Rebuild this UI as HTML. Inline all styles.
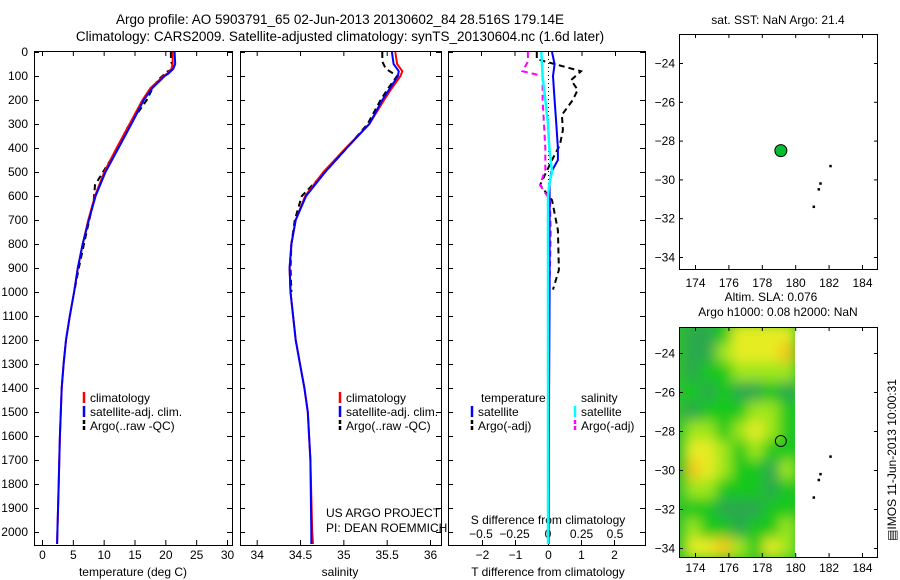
<!DOCTYPE html>
<html><head><meta charset="utf-8"><style>
html,body{margin:0;padding:0;background:#fff}
svg{display:block;font-family:"Liberation Sans",sans-serif}
text{font-size:12px;fill:#000}
</style></head><body>
<svg id="fig" width="900" height="580" viewBox="0 0 900 580" xmlns="http://www.w3.org/2000/svg">
<defs><filter id="blur" x="-0.1" y="-0.1" width="1.2" height="1.2"><feGaussianBlur stdDeviation="6.5"/></filter>
<clipPath id="slaClip"><rect x="679" y="327" width="116" height="230"/></clipPath></defs>
<text x="340" y="24" text-anchor="middle" style="font-size:13.5px">Argo profile: AO 5903791_65 02-Jun-2013 20130602_84 28.516S 179.14E</text>
<text x="340" y="41" text-anchor="middle" style="font-size:13.5px">Climatology: CARS2009. Satellite-adjusted climatology: synTS_20130604.nc (1.6d later)</text>
<g id="g"></g>
</svg>
<script>
// ---- data ----
const depthClim = [0,50,70,90,100,150,200,300,400,500,600,700,800,900,1000,1100,1200,1300,1400,1600,1800,2000,2050];
const tempClim  = [21.2,21.2,21.0,20.3,19.7,17.6,16.3,14.2,12.1,10.1,8.6,7.5,6.6,5.8,5.2,4.5,3.9,3.5,3.2,2.9,2.7,2.5,2.45];
const tempSat   = [21.5,21.6,21.3,20.5,19.9,17.9,16.5,14.5,12.4,10.3,8.7,7.6,6.6,5.8,5.2,4.5,3.9,3.5,3.2,2.9,2.7,2.5,2.45];
const depthArgo = [0,40,70,80,117,158,200,262,325,387,450,554,617,742,908,990];
const tempArgo  = [20.9,20.9,21.5,20.4,18.8,17.8,17.0,15.3,13.6,12.6,11.1,8.6,8.4,7.3,5.9,5.3];
const depthSal  = [0,50,80,100,150,200,300,400,500,600,700,800,900,1000,1100,1200,1300,1400,1500,1700,2000,2050];
const salClim   = [35.60,35.62,35.68,35.66,35.56,35.47,35.30,35.03,34.77,34.56,34.45,34.40,34.38,34.39,34.42,34.45,34.50,34.55,34.59,34.62,34.64,34.65];
const salSat    = [35.56,35.58,35.64,35.63,35.54,35.45,35.30,35.04,34.79,34.57,34.45,34.40,34.38,34.39,34.42,34.45,34.50,34.55,34.59,34.62,34.63,34.63];
const salArgo   = [35.45,35.45,35.49,35.62,35.52,35.43,35.28,35.04,34.79,34.52,34.44,34.40,34.39,34.40];
const depthSalArgo = [0,40,70,100,150,200,300,400,500,600,700,800,900,1000];
const depthDiff = [0,50,100,200,300,400,450,500,550,600,800,1000,1500,2050];
const tDiffSat  = [0.12,0.2,0.15,0.2,0.25,0.3,0.3,0.1,0.05,0.05,0.05,0.05,0.03,0.02];
const sDiffSat  = [-0.05,-0.045,-0.04,-0.02,0,0.01,0.02,0.03,0.01,0,0,0,0,0];
const tDiffArgo = [-0.34,-0.34,1.0,0.7,0.9,0.75,0.42,0.45,0.36,0.12,-0.24,0.12,0.3,0.33,0.15];
const depthTDiffArgo = [0,30,80,117,158,200,262,325,387,450,554,617,742,908,990];
const sDiffArgo = [-0.15,-0.15,-0.19,-0.04,-0.04,-0.03,-0.02,-0.02,-0.06,0.015,0.02,0.015,0.01];
const depthSDiffArgo = [0,40,80,100,200,300,400,490,554,617,750,908,1000];
const depthTicks = [0,100,200,300,400,500,600,700,800,900,1000,1100,1200,1300,1400,1500,1600,1700,1800,1900,2000];
const tempTicks = [0,5,10,15,20,25,30];
const salTicks = [34,34.5,35,35.5,36];
const salTickLabels = ["34","34.5","35","35.5","36"];
const tdTicks = [-2,-1,0,1,2];
const sdTicks = [-0.5,-0.25,0,0.25,0.5];
const sdTickLabels = ["\u22120.5","\u22120.25","0","0.25","0.5"];
const lonTicks = [174,176,178,180,182,184];
const latTicks = [-24,-26,-28,-30,-32,-34];
const floatLon = 179.14, floatLat = -28.516;
const islandsLon = [182.1,181.5,181.4,181.1];
const islandsLat = [-29.3,-30.2,-30.5,-31.4];
// SLA field, rows lat -23..-34 (north->south), cols lon 173.4..180
const slaGrid = [
 [0,0,1,3,3,3,3],
 [0,0,2,3,3,3,4],
 [0,1,1,2,2,2,2],
 [1,0,1,0,0,1,0],
 [0,1,1,1,2,2,1],
 [2,2,1,2,3,2,1],
 [3,3,2,1,2,1,1],
 [4,3,2,1,1,0,2],
 [2,2,1,1,1,0,1],
 [1,1,0,0,0,1,1],
 [2,1,1,0,1,1,2],
 [3,3,4,2,1,3,2]];
const slaColors = ["#2aa84e","#14c81e","#9ee61e","#e6ec22","#f2c81a"];

// ---- helpers ----
const NS="http://www.w3.org/2000/svg";
const G=document.getElementById('g');
function el(t,a,p){const e=document.createElementNS(NS,t);for(const k in a)e.setAttribute(k,a[k]);(p||G).appendChild(e);return e;}
function txt(x,y,s,anchor,extra){const t=el('text',Object.assign({x:x,y:y,'text-anchor':anchor||'start'},extra||{}));t.textContent=s;return t;}
const PT=51, PB=545;
const yD = d => 52 + d*0.24;
function lin(d0,d1,r0,r1){return v=>r0+(v-d0)*(r1-r0)/(d1-d0);}
const xT = lin(0,30,42,227);
const xS = lin(34,36,256.7,430);
const xTD = lin(0,2,548,614);
const xSD = lin(0,0.5,548,615);
function poly(xs,ds,fx,stroke,w,dash,name){
  const pts=xs.map((v,i)=>fx(v).toFixed(1)+','+yD(ds[i]).toFixed(1)).join(' ');
  const p=el('polyline',{points:pts,fill:'none',stroke:stroke,'stroke-width':w});
  if(dash)p.setAttribute('stroke-dasharray',dash);
  
  
  return p;
}
function panel(x0,x1,name){
  const r=el('rect',{x:x0+.5,y:PT+.5,width:x1-x0,height:PB-PT,fill:'none',stroke:'#000','stroke-width':1});
  
  
  depthTicks.forEach(d=>{const y=yD(d)+.5;el('line',{x1:x0,x2:x0+5,y1:y,y2:y,stroke:'#000'});el('line',{x1:x1-5,x2:x1,y1:y,y2:y,stroke:'#000'});});
}
function xticks(vals,labels,fx,ly,x0,x1,top){
  vals.forEach((v,i)=>{const x=fx(v)+.5;
    el('line',{x1:x,x2:x,y1:PB-5,y2:PB,stroke:'#000'});
    if(top)el('line',{x1:x,x2:x,y1:PT,y2:PT+5,stroke:'#000'});
    const t=txt(x,ly,labels[i],'middle');
    
    
  });
}
// Panel 1
panel(34,232,'temperature-panel');
depthTicks.forEach(d=>{const t=txt(28,yD(d)+4,String(d),'end');
  
  });
xticks(tempTicks,tempTicks.map(String),xT,559,34,232,true);
txt(133,576,'temperature (deg C)','middle');
poly(tempArgo,depthArgo,xT,'#000',2,'6,4','temp-argo-line');
poly(tempClim,depthClim,xT,'#f00',2,null,'temp-clim-line');
poly(tempSat,depthClim,xT,'#00f',2,null,'temp-sat-line');
// Panel 2
panel(240,441,'salinity-panel');
xticks(salTicks,salTickLabels,xS,559,240,441,true);
txt(340,576,'salinity','middle');
poly(salArgo,depthSalArgo,xS,'#000',2,'6,4','sal-argo-line');
poly(salClim,depthSal,xS,'#f00',2,null,'sal-clim-line');
poly(salSat,depthSal,xS,'#00f',2,null,'sal-sat-line');
txt(326,517,'US ARGO PROJECT');
txt(326,532,'PI: DEAN ROEMMICH');
// Panel 3
panel(448,645,'difference-panel');
xticks(tdTicks,tdTicks.map(v=>v<0?'\u2212'+(-v):String(v)),xTD,559,448,645,false);
sdTicks.forEach((v,i)=>{const x=xSD(v)+.5;el('line',{x1:x,x2:x,y1:PT,y2:PT+5,stroke:'#000'});});
sdTickLabels.forEach((s,i)=>{const t=txt(xSD(sdTicks[i]),538,s,'middle');
  
  });
txt(548,524,'S difference from climatology','middle');
txt(548,576,'T difference from climatology','middle');
el('line',{x1:548.5,x2:548.5,y1:PT,y2:PB,stroke:'#000','stroke-dasharray':'1,3'});
poly(tDiffArgo,depthTDiffArgo,xTD,'#000',2,'6,4','tdiff-argo-line');
poly(sDiffArgo,depthSDiffArgo,xSD,'#f0f',2,'6,4','sdiff-argo-line');
poly(tDiffSat,depthDiff,xTD,'#00f',2,null,'tdiff-sat-line');
poly(sDiffSat,depthDiff,xSD,'#0ff',2.5,null,'sdiff-sat-line');
// legends
function leg(x,y,color,dash,label,name){
  const l=el('line',{x1:x,x2:x,y1:y-10,y2:y+1,stroke:color,'stroke-width':2.5});
  if(dash)l.setAttribute('stroke-dasharray','4,2');
  const t=txt(x+6,y,label);
  
  
}
leg(84,402,'#f00',0,'climatology','legend-climatology');
leg(84,416,'#00f',0,'satellite-adj. clim.','legend-satellite');
leg(84,430,'#000',1,'Argo(..raw -QC)','legend-argo');
leg(340,402,'#f00',0,'climatology','legend-climatology-2');
leg(340,416,'#00f',0,'satellite-adj. clim.','legend-satellite-2');
leg(340,430,'#000',1,'Argo(..raw -QC)','legend-argo-2');
txt(481,402,'temperature');
txt(581,402,'salinity');
leg(472,416,'#00f',0,'satellite','legend-t-satellite');
leg(472,430,'#000',1,'Argo(-adj)','legend-t-argo');
leg(575,416,'#0ff',0,'satellite','legend-s-satellite');
leg(575,430,'#f0f',1,'Argo(-adj)','legend-s-argo');
// Maps
const xLon = lin(174,184,695,862);
function mapAxes(top,bot,yLat,name,ly){
  const r=el('rect',{x:679.5,y:top+.5,width:198,height:bot-top,fill:'none',stroke:'#000'});
  
  
  lonTicks.forEach(v=>{const x=xLon(v)+.5;el('line',{x1:x,x2:x,y1:top,y2:top+4,stroke:'#000'});el('line',{x1:x,x2:x,y1:bot-4,y2:bot,stroke:'#000'});
    const t=txt(x,ly,String(v),'middle');
    
    });
  latTicks.forEach(v=>{const y=yLat(v)+.5;el('line',{x1:679,x2:683,y1:y,y2:y,stroke:'#000'});el('line',{x1:874,x2:878,y1:y,y2:y,stroke:'#000'});
    const t=txt(675,y+4,'\u2212'+(-v),'end');
    
    });
  islandsLon.forEach((lo,i)=>{const c=el('rect',{x:xLon(lo)-1,y:yLat(islandsLat[i])-1,width:2.5,height:2.5,fill:'#000'});
    
    });
}
const yLat1 = lin(-24,-34,63,257);
const yLat2 = lin(-24,-34,353,548);
// SLA heatmap
const hm=el('g',{'clip-path':'url(#slaClip)'});
el('rect',{x:679,y:327,width:116,height:230,fill:'#30c030'},hm);
const hb=el('g',{filter:'url(#blur)'},hm);
const cw=(180-173.4)/7;
slaGrid.forEach((row,ri)=>row.forEach((v,ci)=>{
  const x0=xLon(173.4+ci*cw), x1=xLon(173.4+(ci+1)*cw);
  const y0=yLat2(-22.5-ri), y1=yLat2(-23.5-ri);
  const c=el('rect',{x:x0-0.5,y:y0-0.5,width:x1-x0+1,height:y1-y0+1,fill:slaColors[v]},hb);
  
  
}));
mapAxes(34,269,yLat1,'sst-map',287);
mapAxes(327,557,yLat2,'sla-map',572);
const fm=el('circle',{cx:xLon(floatLon),cy:yLat1(floatLat),r:6,fill:'#00c030',stroke:'#000','stroke-width':1});


const fm2=el('circle',{cx:xLon(floatLon),cy:yLat2(floatLat),r:5.5,fill:'none',stroke:'#000','stroke-width':1});


txt(778,24,'sat. SST: NaN Argo: 21.4','middle');
txt(771,301,'Altim. SLA: 0.076','middle');
txt(778,316,'Argo h1000: 0.08 h2000: NaN','middle');
const im=txt(0,0,'\u25a4IMOS 11-Jun-2013 10:00:31','middle',{transform:'translate(896,460) rotate(-90)'});


</script>
</body></html>
